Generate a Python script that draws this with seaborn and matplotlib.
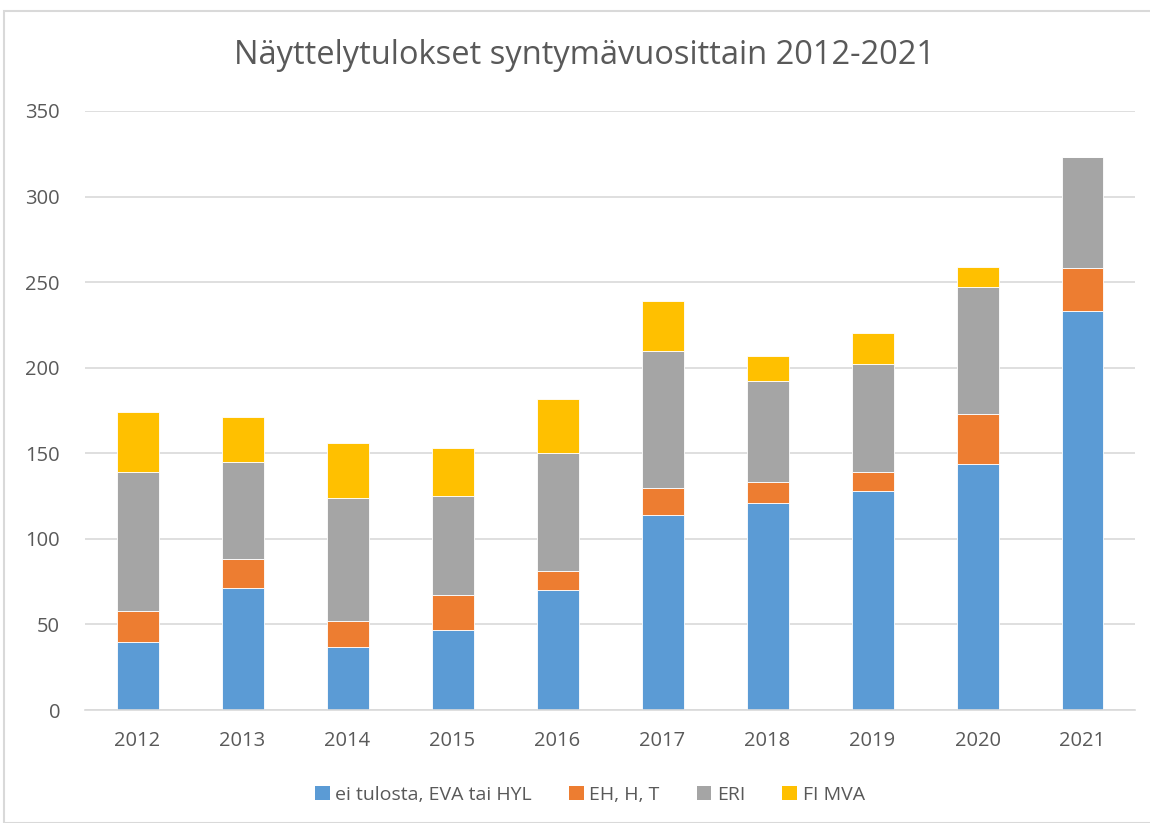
import matplotlib
matplotlib.use("Agg")
import matplotlib.pyplot as plt
import seaborn as sns
import pandas as pd
from matplotlib.patches import Rectangle, Patch

years = ["2012", "2013", "2014", "2015", "2016", "2017", "2018", "2019", "2020", "2021"]
ei_tulosta = [40, 71, 37, 47, 70, 114, 121, 128, 144, 233]
eh_h_t = [18, 17, 15, 20, 11, 16, 12, 11, 29, 25]
eri = [81, 57, 72, 58, 69, 80, 59, 63, 74, 65]
fi_mva = [35, 26, 32, 28, 32, 29, 15, 18, 12, 0]

series_names = ["ei tulosta, EVA tai HYL", "EH, H, T", "ERI", "FI MVA"]
series_values = [ei_tulosta, eh_h_t, eri, fi_mva]
colors = ["#5b9bd5", "#ed7d31", "#a5a5a5", "#ffc000"]

sns.set_theme(style="white")
plt.rcParams["font.family"] = ["Open Sans", "DejaVu Sans"]
txt = "#595959"

fig = plt.figure(figsize=(11.5, 8.23), dpi=100)
ax = fig.add_axes([85 / 1150, 1 - 710 / 823, 1050 / 1150, 599 / 823])

bottom = [0] * len(years)
for name, vals, c in zip(series_names, series_values, colors):
    df = pd.DataFrame({"year": years, "value": vals})
    sns.barplot(data=df, x="year", y="value", color=c, width=0.4, bottom=bottom,
                ax=ax, errorbar=None, saturation=1, edgecolor="white", linewidth=0.6)
    bottom = [b + v for b, v in zip(bottom, vals)]

ax.set_ylim(0, 350)
ax.set_xlim(-0.5, len(years) - 0.5)
ax.set_yticks(range(0, 351, 50))
ax.yaxis.grid(True, color="#d9d9d9", linewidth=1.2)
ax.set_axisbelow(True)
for s in ["top", "right", "left"]:
    ax.spines[s].set_visible(False)
ax.spines["bottom"].set_color("#d9d9d9")
ax.spines["bottom"].set_linewidth(1.2)
ax.set_xlabel("")
ax.set_ylabel("")
ax.tick_params(axis="both", length=0, labelsize=14.5, labelcolor=txt)
ax.tick_params(axis="y", pad=18)
ax.tick_params(axis="x", pad=15)

fig.text(585 / 1150, 1 - 56 / 823, "Näyttelytulokset syntymävuosittain 2012-2021",
         ha="center", va="center", fontsize=23.5, color=txt)

handles = [Patch(facecolor=c, edgecolor="none") for c in colors]
fig.legend(handles, series_names, loc="center", bbox_to_anchor=(590 / 1150, 1 - 795 / 823),
           ncol=4, frameon=False, fontsize=14, labelcolor=txt, handlelength=0.75,
           handleheight=0.75, handletextpad=0.3, columnspacing=1.9)

fig.patches.append(Rectangle((4 / 1150, 0), 1150 / 1150, 1 - 11 / 823, transform=fig.transFigure,
                             fill=False, edgecolor="#d9d9d9", linewidth=1.5))

fig.savefig("out.png", dpi=100)
